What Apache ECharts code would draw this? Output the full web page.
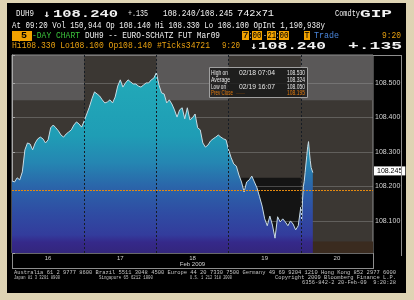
<!DOCTYPE html>
<html><head><meta charset="utf-8">
<script src="https://cdn.jsdelivr.net/npm/echarts@6/dist/echarts.min.js"></script>
<style>
html,body{margin:0;padding:0;}
body{width:414px;height:300px;position:relative;overflow:hidden;background-color:#fbf8ef;
background-image:radial-gradient(circle,#ddd2b2 0.7px,transparent 0.9px);background-size:2px 2px;}
#panel{position:absolute;left:7px;top:3px;width:399px;height:290px;background:#000;}
#c{position:absolute;left:0;top:0;width:414px;height:300px;}
</style>
</head><body><div id="panel"></div><div id="c"></div>
<script>
// ---------- data ----------
const dayLabels = ['16', '17', '18', '19', '20'];
const monthLabel = 'Feb 2009';
const sessionMinutes = 840;           // 7:00 - 21:00
// prices sampled every 30 min from 7:00 (Feb 16-19), every 10 min on Feb 20 (to 9:20)
const feb16 = [108.216,108.213,108.225,108.219,108.242,108.306,108.326,108.323,108.306,108.326,
               108.338,108.343,108.338,108.326,108.335,108.370,108.378,108.370,108.361,108.349,
               108.343,108.352,108.358,108.364,108.378,108.387,108.381,108.372];
const feb17 = [108.390,108.410,108.430,108.454,108.474,108.468,108.462,108.451,108.442,108.445,
               108.451,108.442,108.459,108.491,108.509,108.488,108.500,108.509,108.503,108.497,
               108.497,108.491,108.488,108.494,108.500,108.500,108.509,108.514];
const feb18 = [108.530,108.494,108.471,108.468,108.442,108.451,108.439,108.422,108.401,108.422,
               108.428,108.396,108.428,108.393,108.399,108.410,108.370,108.364,108.326,108.314,
               108.320,108.332,108.338,108.343,108.349,108.343,108.338,108.335];
const feb19 = [108.306,108.283,108.265,108.259,108.233,108.213,108.184,108.213,108.219,108.230,
               108.213,108.196,108.170,108.143,108.106,108.086,108.114,108.088,108.050,108.112,
               108.097,108.106,108.097,108.086,108.100,108.091,108.074,108.086];
const feb20 = [108.140,108.100,108.160,108.200,108.215,108.240,108.265,108.290,108.315,108.330,
               108.300,108.275,108.255,108.250,108.240];
const dayPrices = [feb16, feb17, feb18, feb19, feb20];
const stepMinutes = [30, 30, 30, 30, 10];
const yLabelValues = [108.100, 108.200, 108.300, 108.400, 108.500];
const prevClose = 108.195;
const lastAsk = 108.245;
const yMin = 108.007, yMax = 108.581;
const upperBand = 108.45, lowerBand = 108.225, bottomStrip = 108.04;

// ---------- build ----------
const seriesData = [];
dayPrices.forEach((arr, d) => {
  arr.forEach((v, i) => seriesData.push([d + i * stepMinutes[d] / sessionMinutes, v]));
});

const mctx = document.createElement('canvas').getContext('2d');
function txt(x, y, s, w, color, size, bold, family) {
  const fam = family || 'Liberation Mono';
  const font = (bold ? 'bold ' : '') + size + 'px "' + fam + '"';
  mctx.font = font;
  const natural = mctx.measureText(s).width || 1;
  return {type: 'text', x: x, y: y, scaleX: w ? w / natural : 1, silent: true, z: 100,
    style: {text: s, x: 0, y: 0, fill: color, font: font, verticalAlign: 'middle', align: 'left'}};
}
function box(x, y, w, h, fill) {
  return {type: 'rect', silent: true, z: 99, shape: {x: x, y: y, width: w, height: h}, style: {fill: fill}};
}
function line(x1, y1, x2, y2, color) {
  return {type: 'line', silent: true, z: 90, shape: {x1, y1, x2, y2}, style: {stroke: color, lineWidth: 1}};
}
const W = '#f2f2f2', AMB = '#e8a010', OR = '#f2a200', GRN = '#3cc43c', BLU = '#4a86dc', FOOT = '#c4c4c4';
const IB = '#e6e6e6', IO = '#e07a10', SANS = 'Liberation Sans';

const graphics = [
  // header line 1
  txt(16, 14, 'DUH9', 18, W, 9),
  txt(43, 14, '\u2193', 7, W, 10, true, 'DejaVu Sans Mono'),
  txt(53, 14, '108.240', 65, W, 10, true),
  txt(128, 14, '+.135', 20, W, 9),
  txt(163, 14, '108.240/108.245', 70, W, 9),
  txt(237, 14, '742x71', 37, W, 9),
  txt(335, 14, 'Comdty', 25, W, 9),
  txt(360, 14, 'GIP', 32, W, 10, true),
  // line 2
  txt(12, 26, 'At 09:20 Vol 150,944 Op 108.140 Hi 108.330 Lo 108.100 OpInt 1,190,938y', 313, W, 9),
  // line 3
  box(12, 31, 20, 10, OR),
  txt(21, 36, '5', 6, '#000', 9, true),
  txt(32, 36, '-DAY CHART', 48, GRN, 9),
  txt(85, 36, 'DUH9 -- EURO-SCHATZ FUT Mar09', 135, W, 9),
  box(242, 31, 7, 9, OR), txt(242.5, 36, '7', 6, '#000', 9),
  txt(249, 36, ':', 3, W, 9),
  box(252, 31, 10, 9, OR), txt(252.5, 36, '00', 9, '#000', 9),
  txt(263, 36, '-', 4, W, 9),
  box(267, 31, 9, 9, OR), txt(267.5, 36, '21', 8.5, '#000', 9),
  txt(276, 36, ':', 3, W, 9),
  box(279, 31, 10, 9, OR), txt(279.5, 36, '00', 9, '#000', 9),
  box(304, 31, 6, 9, OR), txt(304.5, 36, 'T', 5, '#000', 9),
  txt(314, 36, 'Trade', 25, BLU, 9),
  txt(382, 36, '9:20', 19, AMB, 9),
  // line 4
  txt(12, 46, 'Hi108.330 Lo108.100 Op108.140 #Ticks34721', 198, AMB, 9),
  txt(222, 46, '9:20', 18, AMB, 9),
  txt(250, 46, '\u2193', 7, W, 10, true, 'DejaVu Sans Mono'),
  txt(258, 46, '108.240', 68, W, 11, true),
  txt(348, 46, '+.135', 54, W, 11, true),
  // frame pieces
  line(373, 55.5, 401.5, 55.5, '#8e8e8e'),
  line(401.5, 55, 401.5, 256, '#8e8e8e'),
  line(12.5, 253, 12.5, 268.5, '#8e8e8e'),
  line(373.5, 253, 373.5, 268.5, '#8e8e8e'),
  line(12, 268.5, 374, 268.5, '#8e8e8e'),
  // info box
  {type: 'rect', silent: true, z: 95, shape: {x: 209.5, y: 67.5, width: 98, height: 30},
    style: {fill: 'rgba(24,24,24,0.8)', stroke: '#a0a0a0', lineWidth: 1}},
  txt(211, 73, 'High on', 17, IB, 7, false, SANS),
  txt(239, 73, '02/18 07:04', 36, IB, 7, false, SANS),
  txt(287, 73, '108.530', 18, IB, 7, false, SANS),
  txt(211, 80, 'Average', 19, IB, 7, false, SANS),
  txt(287, 80, '108.324', 18, IB, 7, false, SANS),
  txt(211, 87, 'Low on', 15, IB, 7, false, SANS),
  txt(239, 87, '02/19 16:07', 36, IB, 7, false, SANS),
  txt(287, 87, '108.050', 18, IB, 7, false, SANS),
  txt(211, 93.5, 'Prev Close', 22, IO, 7, false, SANS),
  line(236, 93.5, 245, 93.5, IO),
  txt(287, 93.5, '108.195', 18, IO, 7, false, SANS),
  // footer
  txt(14, 272, 'Australia 61 2 9777 8600 Brazil 5511 3048 4500 Europe 44 20 7330 7500 Germany 49 69 9204 1210 Hong Kong 852 2977 6000', 382, FOOT, 6),
  txt(14, 277, 'Japan 81 3 3201 8900', 46, FOOT, 6),
  txt(99, 277, 'Singapore 65 6212 1000', 54, FOOT, 6),
  txt(190, 277, 'U.S. 1 212 318 2000', 42, FOOT, 6),
  txt(275, 277, 'Copyright 2009 Bloomberg Finance L.P.', 121, FOOT, 6),
  txt(302, 282.5, '6356-842-2 20-Feb-09  9:20:28', 94, FOOT, 6)
];

const isLabelTick = v => yLabelValues.some(t => Math.abs(t - v) < 1e-6);

const option = {
  animation: false,
  backgroundColor: 'transparent',
  grid: {left: 12, top: 55, width: 361, height: 198, show: true,
    backgroundColor: '#3b3733', borderColor: '#8e8e8e', borderWidth: 1},
  xAxis: [
    {type: 'value', min: 0, max: dayLabels.length, show: false},
    {type: 'category', data: dayLabels, position: 'bottom', boundaryGap: true,
      axisLine: {show: false}, axisTick: {show: false}, splitLine: {show: false},
      axisLabel: {fontSize: 6, color: '#d0d0d0', margin: 2, fontFamily: SANS},
      name: monthLabel, nameLocation: 'middle', nameGap: 8, nameMoveOverlap: false,
      nameTextStyle: {fontSize: 6, color: '#d0d0d0', fontFamily: SANS}}
  ],
  yAxis: {
    type: 'value', position: 'right', min: yMin, max: yMax, splitNumber: 5, z: 1.5,
    axisLine: {show: true, lineStyle: {color: '#a8a8a8'}},
    axisTick: {show: true, length: 3, lineStyle: {color: '#a8a8a8'}},
    axisLabel: {fontSize: 7, color: '#d4d4d4', margin: 2, fontFamily: SANS,
      formatter: v => isLabelTick(v) ? v.toFixed(3) : ''},
    splitLine: {show: true, lineStyle: {color: 'rgba(160,160,160,0.38)', width: 1}},
    axisPointer: {show: true, type: 'line', value: lastAsk, status: 'show', snap: false,
      triggerTooltip: false, lineStyle: {opacity: 0, width: 0},
      label: {show: true, formatter: p => Number(p.value).toFixed(3), backgroundColor: '#ffffff',
        color: '#000', fontSize: 7, padding: [1, 3, 1, 3], borderRadius: 0, margin: 1,
        fontFamily: SANS}}
  },
  series: [{
    type: 'line', xAxisIndex: 0, data: seriesData, symbol: 'none', z: 2,
    lineStyle: {color: '#c8dbe4', width: 1},
    areaStyle: {opacity: 1, color: new echarts.graphic.LinearGradient(0, 0, 0, 1, [
      {offset: 0, color: '#22aab8'}, {offset: 0.35, color: '#1f9db5'},
      {offset: 0.5, color: '#2586b2'}, {offset: 0.64, color: '#2b63a9'},
      {offset: 0.78, color: '#2f4ca3'}, {offset: 0.9, color: '#333c9c'},
      {offset: 0.94, color: '#35298a'}, {offset: 1, color: '#33267c'}])},
    markArea: {silent: true, label: {show: false}, data: [
      [{xAxis: 0, yAxis: upperBand, itemStyle: {color: '#5a5858'}}, {xAxis: 1, yAxis: yMax}],
      [{xAxis: 2, yAxis: upperBand, itemStyle: {color: '#5a5858'}}, {xAxis: 3, yAxis: yMax}],
      [{xAxis: 4, yAxis: upperBand, itemStyle: {color: '#5a5858'}}, {xAxis: 5, yAxis: yMax}],
      [{xAxis: 3, yAxis: yMin, itemStyle: {color: '#141414'}}, {xAxis: 4, yAxis: lowerBand}],
      [{xAxis: 4, yAxis: yMin, itemStyle: {color: '#3a2b1f'}}, {xAxis: 5, yAxis: bottomStrip}]
    ]},
    markLine: {silent: true, symbol: ['none', 'none'], label: {show: false}, data: [
      {xAxis: 1, lineStyle: {color: '#161c24', type: [2, 2], width: 1}},
      {xAxis: 2, lineStyle: {color: '#161c24', type: [2, 2], width: 1}},
      {xAxis: 3, lineStyle: {color: '#161c24', type: [2, 2], width: 1}},
      {xAxis: 4, lineStyle: {color: '#161c24', type: [2, 2], width: 1}},
      {yAxis: prevClose, lineStyle: {color: '#e58a10', type: [2, 1], width: 1}}
    ]}
  }],
  graphic: graphics
};
const chart = echarts.init(document.getElementById('c'), null, {renderer: 'canvas'});
chart.setOption(option);
</script>
</body></html>
